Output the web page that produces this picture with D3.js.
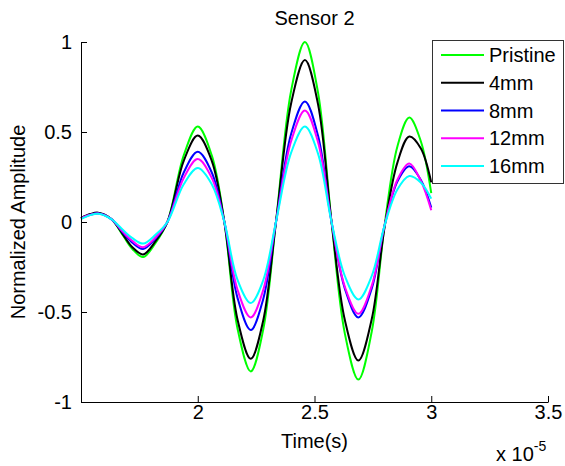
<!DOCTYPE html>
<html>
<head>
<meta charset="utf-8">
<script src="https://cdn.jsdelivr.net/npm/d3@7"></script>
<style>
  html, body { margin: 0; padding: 0; background: #fff; }
  svg { display: block; }
  text { font-family: Arial, "Liberation Sans", Helvetica, sans-serif; fill: #000; }
</style>
</head>
<body>
<svg id="chart" width="565" height="466"></svg>
<script>
// Sample times, in units of 1e-5 s
const timeScaled = [1.50, 1.54, 1.573, 1.63, 1.68, 1.72, 1.766, 1.82, 1.87, 1.94, 2.00, 2.06, 2.114, 2.17, 2.227,
  2.28, 2.335, 2.40, 2.459, 2.515, 2.573, 2.63, 2.688, 2.745, 2.80, 2.855, 2.906, 2.955, 3.00];

// Normalized received amplitude per damage case
const pristine = [0.022, 0.042, 0.048, 0.015, -0.075, -0.15, -0.195, -0.115, 0.0, 0.37, 0.53, 0.37, 0.0, -0.59, -0.83,
  -0.60, 0.0, 0.73, 1.0, 0.72, 0.0, -0.62, -0.875, -0.61, -0.02, 0.42, 0.58, 0.45, 0.16];
const mm4 = [0.022, 0.044, 0.052, 0.017, -0.07, -0.14, -0.18, -0.105, 0.0, 0.34, 0.48, 0.34, 0.0, -0.54, -0.76,
  -0.55, 0.0, 0.66, 0.90, 0.655, 0.0, -0.545, -0.77, -0.54, -0.03, 0.33, 0.475, 0.41, 0.22];
const mm8 = [0.02, 0.04, 0.048, 0.016, -0.06, -0.115, -0.15, -0.09, 0.0, 0.275, 0.39, 0.275, 0.0, -0.42, -0.60,
  -0.43, 0.0, 0.49, 0.67, 0.48, 0.0, -0.37, -0.53, -0.37, -0.02, 0.225, 0.31, 0.235, 0.08];
const mm12 = [0.02, 0.04, 0.047, 0.016, -0.055, -0.105, -0.14, -0.085, 0.0, 0.245, 0.35, 0.245, 0.0, -0.375, -0.53,
  -0.38, 0.0, 0.45, 0.62, 0.445, 0.0, -0.36, -0.51, -0.355, -0.02, 0.235, 0.325, 0.23, 0.065];
const mm16 = [0.016, 0.038, 0.046, 0.016, -0.045, -0.09, -0.12, -0.07, 0.0, 0.21, 0.30, 0.21, 0.0, -0.32, -0.45,
  -0.325, 0.0, 0.385, 0.53, 0.38, 0.0, -0.30, -0.43, -0.30, -0.02, 0.18, 0.255, 0.22, 0.13];

const seriesNames = ["Pristine", "4mm", "8mm", "12mm", "16mm"];
const seriesValues = [pristine, mm4, mm8, mm12, mm16];
const seriesColors = ["#00ff00", "#000000", "#0000ff", "#ff00ff", "#00ffff"];

const xTicks = [2.0, 2.5, 3.0, 3.5];
const yTicks = [-1, -0.5, 0, 0.5, 1];
const timeExponent = -5;

const svg = d3.select("#chart");
const plot = { left: 81, right: 548, top: 42, bottom: 402 };

const x = d3.scaleLinear().domain([1.5, 3.5]).range([plot.left, plot.right]);
const y = d3.scaleLinear().domain([-1, 1]).range([plot.bottom, plot.top]);

// Signal traces
const line = d3.line()
  .x(d => x(d[0]))
  .y(d => y(d[1]))
  .curve(d3.curveCatmullRom.alpha(0.5));

svg.append("g").selectAll("path")
  .data(seriesValues.map((vals, i) => ({ pts: timeScaled.map((t, j) => [t, vals[j]]), color: seriesColors[i] })))
  .join("path")
  .attr("d", d => line(d.pts))
  .attr("fill", "none")
  .attr("stroke", d => d.color)
  .attr("stroke-width", 2)
  .attr("stroke-linejoin", "round");

// Axes (ticks pointing inward); plain hyphen for negative labels
const fmt = d3.formatLocale({ decimal: ".", thousands: ",", grouping: [3], currency: ["", ""], minus: "-" }).format("~g");
const xAxis = svg.append("g")
  .attr("transform", `translate(0,${plot.bottom})`)
  .call(d3.axisBottom(x).tickValues(xTicks).tickFormat(fmt).tickSizeInner(-6).tickSizeOuter(0).tickPadding(17));
const yAxis = svg.append("g")
  .attr("transform", `translate(${plot.left},0)`)
  .call(d3.axisLeft(y).tickValues(yTicks).tickFormat(fmt).tickSizeInner(-6).tickSizeOuter(0).tickPadding(9));

[xAxis, yAxis].forEach(ax => {
  ax.select(".domain").attr("stroke", "#000").attr("stroke-width", 1);
  ax.selectAll(".tick line").attr("stroke", "#000");
  ax.selectAll(".tick text").attr("font-size", 20).attr("font-family", "Arial, 'Liberation Sans', sans-serif");
});
xAxis.selectAll(".tick text").attr("dy", null).attr("y", 17);

// Title and axis labels
svg.append("text")
  .attr("x", (plot.left + plot.right) / 2).attr("y", 25)
  .attr("text-anchor", "middle").attr("font-size", 20)
  .text("Sensor 2");

svg.append("text")
  .attr("x", (plot.left + plot.right) / 2).attr("y", 448)
  .attr("text-anchor", "middle").attr("font-size", 20)
  .text("Time(s)");

svg.append("text")
  .attr("transform", `translate(25,${(plot.top + plot.bottom) / 2}) rotate(-90)`)
  .attr("text-anchor", "middle").attr("font-size", 20)
  .text("Normalized Amplitude");

const expLabel = svg.append("text")
  .attr("x", 496).attr("y", 461).attr("font-size", 20);
expLabel.append("tspan").text("x 10");
expLabel.append("tspan").attr("dy", -10).attr("font-size", 14).text(String(timeExponent));

// Legend
const legend = svg.append("g");
legend.append("rect")
  .attr("x", 432.5).attr("y", 40.5).attr("width", 131).attr("height", 143)
  .attr("fill", "#fff").attr("stroke", "#333").attr("stroke-width", 1);
const rowY = d3.scalePoint().domain(seriesNames).range([55, 166]);
const rows = legend.selectAll("g.row")
  .data(seriesNames.map((n, i) => ({ name: n, color: seriesColors[i] })))
  .join("g").attr("class", "row")
  .attr("transform", d => `translate(0,${rowY(d.name)})`);
rows.append("line")
  .attr("x1", 441).attr("x2", 484).attr("y1", 0).attr("y2", 0)
  .attr("stroke", d => d.color).attr("stroke-width", 2);
rows.append("text")
  .attr("x", 489).attr("y", 0).attr("dy", "0.35em").attr("font-size", 20)
  .text(d => d.name);
</script>
</body>
</html>
